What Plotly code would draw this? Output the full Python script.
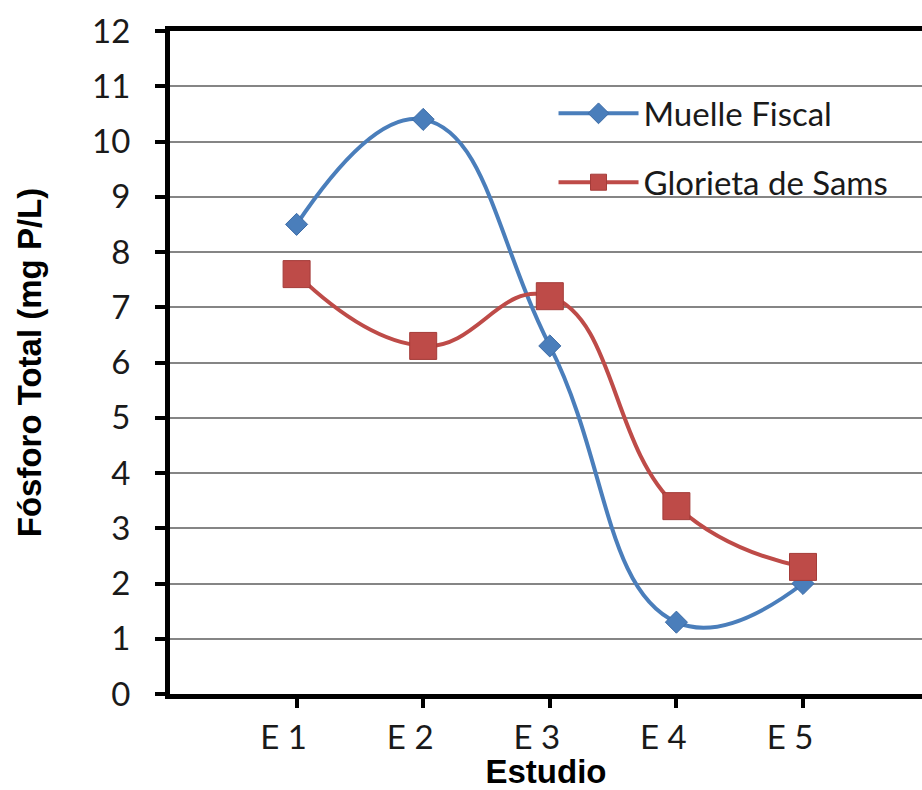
import plotly.graph_objects as go

# Total phosphorus per study campaign at two sampling sites
estudios = ["E 1", "E 2", "E 3", "E 4", "E 5"]
muelle_fiscal = [8.5, 10.4, 6.3, 1.3, 2.0]
glorieta_sams = [7.6, 6.3, 7.2, 3.4, 2.3]
y_ticks = list(range(0, 13))

BODY_FONT = "Lato, Carlito, Calibri, sans-serif"
TITLE_FONT = "Liberation Sans, Arial, sans-serif"
BLUE = "#4A7EBB"
RED = "#BE4B48"

fig = go.Figure()

fig.add_trace(go.Scatter(
    x=estudios, y=muelle_fiscal, name="Muelle Fiscal",
    mode="lines+markers", legendgroup="muelle",
    line=dict(color=BLUE, width=4, shape="spline", smoothing=1.3),
    marker=dict(symbol="diamond", size=17, color=BLUE,
                line=dict(color="#3C6BA6", width=1)),
))

fig.add_trace(go.Scatter(
    x=estudios, y=glorieta_sams, name="Glorieta de Sams",
    mode="lines+markers", legendgroup="glorieta",
    line=dict(color=RED, width=4, shape="spline", smoothing=1.3),
    marker=dict(symbol="square", size=27, color=RED,
                line=dict(color="#A43C39", width=1)),
))

fig.update_layout(
    width=922, height=790,
    margin=dict(l=170, r=0, t=31, b=96, autoexpand=False),
    paper_bgcolor="white", plot_bgcolor="white",
    font=dict(family=BODY_FONT, size=33, color="#1a1a1a"),
    showlegend=True,
    legend=dict(
        x=0.51, y=0.918, xanchor="left", yanchor="top",
        bgcolor="rgba(0,0,0,0)", borderwidth=0,
        traceorder="grouped", tracegroupgap=23,
        itemwidth=80,
        font=dict(family=BODY_FONT, size=33, color="#1a1a1a"),
    ),
    xaxis=dict(
        type="category", categoryorder="array", categoryarray=estudios,
        range=[-1, 4.94],
        showline=True, linewidth=5, linecolor="black", mirror=True,
        ticks="outside", ticklen=9, tickwidth=4, tickcolor="black",
        ticklabelstandoff=1, ticklabelshift=-13,
        showgrid=False, zeroline=False,
        tickfont=dict(family=BODY_FONT, size=33, color="#1a1a1a"),
        title=dict(text="Estudio", standoff=18,
                   font=dict(family=TITLE_FONT, size=33, color="black", weight="bold")),
    ),
    yaxis=dict(
        range=[0, 12], tickvals=y_ticks,
        showline=True, linewidth=5, linecolor="black", mirror=False,
        ticks="outside", ticklen=10, tickwidth=4, tickcolor="black",
        ticklabelstandoff=18,
        showgrid=True, gridcolor="#858585", gridwidth=2,
        zeroline=False,
        tickfont=dict(family=BODY_FONT, size=33, color="#1a1a1a"),
        title=dict(text="Fósforo Total (mg P/L)", standoff=42,
                   font=dict(family=TITLE_FONT, size=33, color="black", weight="bold")),
    ),
)

fig.write_html("out.html")
